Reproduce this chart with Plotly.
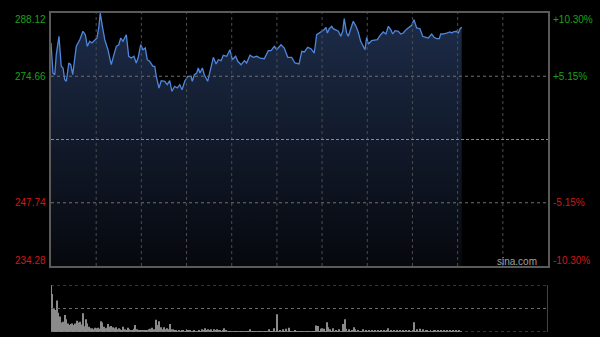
import plotly.graph_objects as go

# ---- data ----
# minutes since 09:30 (HK session, lunch break collapsed)
minutes = [0, 1.3, 2.5, 3.5, 5.3, 6.8, 8.0, 9.1, 10.2, 11.8, 13.1, 14.4, 16.8, 19.1, 21.2, 22.8,
           24.1, 25.7, 27.2, 29.0, 30.5, 31.7, 32.7, 34.1, 35.7, 37.8, 40.0, 41.8, 43.4, 45.0,
           46.3, 47.8, 50.0, 51.6, 53.3, 55.1, 56.6, 57.8, 59.6, 61.1, 62.6, 63.9, 65.5, 67.7,
           68.9, 69.9, 71.7, 73.2, 75.5, 77.2, 78.8, 80.3, 82.1, 83.9, 85.5, 87.0, 88.8, 90.8,
           93.0, 93.8, 95.2, 96.7, 97.8, 98.9, 100.5, 101.8, 104.0, 105.6, 107.8, 109.6, 111.1,
           112.9, 114.4, 116.7, 118.8, 120.4, 122.6, 124.0, 126.2, 128.4, 129.9, 132.1, 134.3,
           136.6, 138.8, 141.6, 144.3, 146.1, 148.3, 149.9, 152.7, 154.9, 157.2, 159.8, 162.0,
           164.7, 166.5, 168.2, 170.4, 172.6, 174.8, 176.4, 178.0, 179.7, 181.3, 182.6, 183.5,
           184.8, 186.4, 187.4, 189.2, 190.8, 192.4, 193.7, 194.7, 196.3, 197.4, 199.0, 200.7,
           202.5, 204.0, 205.6, 207.0, 208.5, 209.6, 210.7, 212.9, 215.1, 216.7, 218.5, 220.6,
           222.4, 224.0, 225.6, 226.9, 228.4, 230.6, 232.2, 233.9, 235.7, 237.9, 239.5, 241.0,
           242.8, 245.0, 246.8, 249.0, 250.5, 252.8, 254.3, 256.1, 257.8, 258.8, 260.1, 262.7,
           264.9, 266.1, 267.1, 269.4, 270.4, 271.6, 272.7]
prices = [281.74, 275.35, 274.99, 279.25, 283.16, 276.78, 276.42, 273.93, 273.59, 277.48, 277.12,
          274.99, 281.03, 282.44, 284.23, 283.50, 281.03, 282.10, 281.74, 282.44, 282.80, 284.93,
          288.12, 285.29, 282.44, 280.31, 277.12, 279.25, 281.03, 281.37, 282.80, 282.10, 283.50,
          278.91, 278.54, 278.91, 277.48, 278.54, 281.37, 280.31, 280.67, 278.18, 277.84, 276.78,
          276.78, 274.65, 272.16, 273.71, 273.59, 272.86, 273.71, 271.46, 272.52, 272.16, 272.86,
          271.80, 273.59, 274.65, 274.65, 273.59, 274.99, 275.35, 276.42, 275.35, 276.42, 274.99,
          273.59, 275.71, 278.69, 277.27, 278.18, 277.97, 279.12, 278.91, 280.31, 278.18, 278.91,
          277.84, 277.12, 277.97, 277.48, 279.12, 278.69, 278.91, 278.54, 278.39, 280.10, 280.10,
          281.03, 280.31, 281.37, 280.67, 278.69, 278.69, 277.48, 277.27, 279.97, 279.82, 280.82,
          280.52, 279.61, 283.50, 283.86, 284.08, 284.57, 285.08, 283.86, 284.78, 285.29, 284.78,
          284.57, 284.23, 283.16, 284.23, 286.91, 283.86, 283.16, 284.93, 286.35, 285.29, 284.08,
          282.10, 281.37, 280.31, 282.95, 281.52, 282.23, 282.44, 282.44, 283.37, 284.08, 283.65,
          285.29, 284.57, 283.65, 284.36, 284.23, 283.65, 283.86, 284.57, 285.08, 285.50, 286.69,
          284.93, 284.78, 283.16, 282.95, 282.80, 283.65, 282.95, 282.65, 282.65, 283.65, 283.65,
          283.86, 284.08, 283.86, 284.08, 284.23, 283.86, 284.78, 285.08]

# per-minute volume (relative units)
volume = [100, 81, 50, 47, 67, 41, 33, 20, 22, 36,
          27, 18, 15, 17, 18, 15, 18, 24, 20, 22,
          16, 40, 12, 27, 18, 11, 8, 8, 6, 9,
          8, 9, 7, 23, 20, 11, 8, 9, 17, 11,
          13, 10, 8, 10, 6, 8, 6, 4, 11, 6,
          4, 9, 6, 4, 4, 7, 15, 6, 4, 3,
          3, 4, 3, 3, 4, 6, 7, 9, 6, 6,
          26, 15, 23, 10, 6, 10, 6, 8, 6, 17,
          6, 6, 3, 3, 2, 3, 2, 3, 3, 2,
          6, 4, 3, 2, 2, 3, 2, 2, 3, 2,
          6, 3, 8, 4, 6, 3, 6, 2, 6, 3,
          6, 3, 4, 2, 4, 8, 3, 2, 2, 2,
          2, 2, 2, 2, 2, 2, 2, 2, 2, 2,
          2, 2, 6, 2, 2, 2, 2, 2, 2, 2,
          2, 2, 2, 2, 2, 6, 2, 2, 8, 2,
          38, 2, 4, 2, 6, 2, 7, 2, 9, 2,
          2, 2, 3, 2, 2, 2, 1, 2, 1, 2,
          1, 2, 1, 2, 2, 1, 14, 13, 2, 7,
          8, 7, 2, 21, 10, 6, 2, 8, 2, 4,
          2, 6, 2, 2, 17, 27, 7, 2, 6, 2,
          3, 10, 6, 2, 3, 2, 2, 6, 2, 3,
          2, 3, 2, 3, 2, 3, 2, 3, 2, 3,
          2, 3, 2, 3, 8, 2, 3, 2, 3, 2,
          3, 2, 3, 2, 3, 2, 3, 2, 4, 2,
          3, 21, 2, 6, 2, 7, 2, 6, 2, 3,
          3, 2, 3, 2, 3, 4, 2, 3, 2, 3,
          2, 3, 2, 3, 2, 3, 2, 3, 2, 3,
          2, 3, 2]
vol_minutes = list(range(len(volume)))

prev_close = 261.20
y_min, y_max = 234.28, 288.12
left_ticks = [288.12, 274.66, 247.74, 234.28]
left_labels = ["288.12", "274.66", "247.74", "234.28"]
right_labels = ["+10.30%", "+5.15%", "-5.15%", "-10.30%"]
grid_prices = [274.66, 247.74]
session_len = 330
grid_minutes = [30, 60, 90, 120, 150, 180, 210, 240, 270, 300]
vol_max = 100
vol_grid = [0, 50, 100]

W, H = 600, 337
GREEN = "#1aa01a"
RED = "#d01818"

fig = go.Figure()

fig.add_trace(go.Scatter(
    x=minutes, y=prices, mode="lines",
    line=dict(color="#4f86dc", width=1.3),
    fill="tozeroy",
    fillgradient=dict(type="vertical", start=y_min, stop=y_max,
                      colorscale=[[0, "#06080d"], [1, "#1d2c49"]]),
    xaxis="x", yaxis="y", hoverinfo="skip"))

fig.add_trace(go.Bar(
    x=vol_minutes, y=volume, marker=dict(color="#8a8a8a", line=dict(width=0)),
    xaxis="x2", yaxis="y2", hoverinfo="skip"))

xd = [51 / W, 548 / W]
fig.update_layout(
    width=W, height=H,
    margin=dict(l=0, r=0, t=0, b=0),
    paper_bgcolor="#000000", plot_bgcolor="#000000",
    showlegend=False, bargap=0.4,
    xaxis=dict(domain=xd, range=[0, session_len], showticklabels=False, ticks="",
               showgrid=False, zeroline=False,
               showline=True, mirror=True, linecolor="#5a5a5a", linewidth=1.5),
    yaxis=dict(domain=[(H - 266) / H, (H - 13) / H], range=[y_min, y_max],
               showticklabels=False, ticks="", showgrid=False,
               zeroline=False, showline=True, mirror=True, linecolor="#5a5a5a", linewidth=1.5),
    xaxis2=dict(domain=xd, range=[0, session_len], showticklabels=False, showgrid=False,
                zeroline=False, anchor="y2"),
    yaxis2=dict(domain=[(H - 332) / H, (H - 285) / H], range=[0, vol_max],
                showticklabels=False, ticks="", showgrid=False,
                zeroline=False, anchor="x2"),
)

# vertical dotted grid (above fill)
for m in grid_minutes:
    fig.add_shape(type="line", xref="x", yref="y", x0=m, x1=m, y0=y_min, y1=y_max, layer="above",
                  line=dict(color="#4c4c4c", width=1, dash="dot"))
# horizontal dotted grid
for p in grid_prices:
    fig.add_shape(type="line", xref="x", yref="y", x0=0, x1=session_len, y0=p, y1=p, layer="above",
                  line=dict(color="#707070", width=1, dash="dot"))
# previous close line
fig.add_shape(type="line", xref="x", yref="y", x0=0, x1=session_len, y0=prev_close, y1=prev_close,
              layer="above", line=dict(color="#8a8a8a", width=1, dash="3px,2px"))
# volume panel grid and right border
for v in vol_grid:
    fig.add_shape(type="line", xref="x2", yref="y2", x0=0, x1=session_len, y0=v, y1=v, layer="above",
                  line=dict(color="#6a6a6a", width=1, dash="dot"))
fig.add_shape(type="line", xref="x2", yref="y2", x0=session_len, x1=session_len, y0=0, y1=vol_max,
              line=dict(color="#5a5a5a", width=1.5))

font = "Liberation Sans, Arial, sans-serif"
shifts = [-6, 0, 0, 6]
for val, lt, rt, sh in zip(left_ticks, left_labels, right_labels, shifts):
    col = GREEN if val > prev_close else RED
    fig.add_annotation(xref="paper", yref="y", x=48 / W, y=val, yshift=sh, text=lt,
                       showarrow=False, xanchor="right", yanchor="middle",
                       font=dict(family=font, size=10, color=col))
    fig.add_annotation(xref="paper", yref="y", x=551 / W, y=val, yshift=sh, text=rt,
                       showarrow=False, xanchor="left", yanchor="middle",
                       font=dict(family=font, size=10, color=col))

fig.add_annotation(xref="paper", yref="paper", x=539 / W, y=(H - 261) / H, text="sina.com",
                   showarrow=False, xanchor="right", yanchor="middle",
                   font=dict(family=font, size=10, color="#a0a0a0"))

fig.write_html("out.html")
